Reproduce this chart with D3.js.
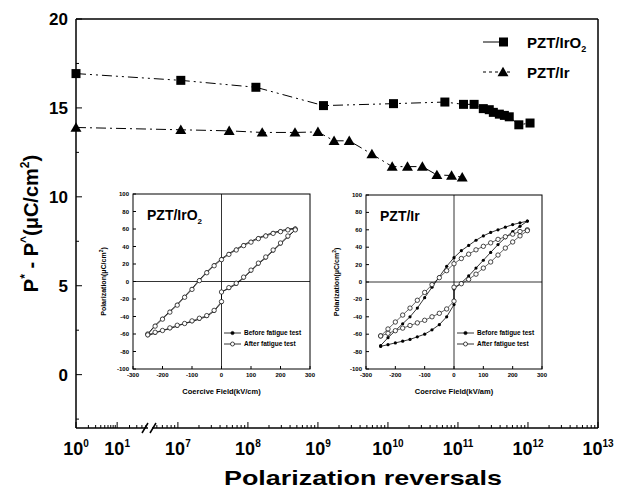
<!DOCTYPE html>
<html>
<head>
<meta charset="utf-8">
<script src="https://cdn.jsdelivr.net/npm/d3@7"></script>
<style>
  body { margin: 0; background: #fff; }
  text { font-family: "Liberation Sans", Arial, sans-serif; font-weight: bold; fill: #000; }
</style>
</head>
<body>
<svg id="chart" width="620" height="488"></svg>
<script>
// ---- main plot data (P* - P^ vs number of switching cycles)
const irO2Cycles = [1, 1.1e7, 1.3e8, 1.2e9, 1.2e10, 6.5e10, 1.2e11, 1.7e11, 2.3e11, 2.8e11, 3.2e11, 3.9e11, 4.6e11, 5.4e11, 7.4e11, 1.07e12];
const irO2Values = [16.93, 16.55, 16.16, 15.13, 15.24, 15.33, 15.2, 15.2, 14.96, 14.9, 14.75, 14.65, 14.58, 14.5, 14.05, 14.15];
const irCycles = [1, 1.1e7, 5.4e7, 1.6e8, 4.7e8, 1e9, 1.7e9, 2.8e9, 5.9e9, 1.15e10, 1.9e10, 3.1e10, 5e10, 8.1e10, 1.15e11];
const irValues = [13.9, 13.77, 13.71, 13.62, 13.62, 13.65, 13.15, 13.15, 12.4, 11.7, 11.7, 11.7, 11.23, 11.2, 11.1];

const yTicks = [0, 5, 10, 15, 20];
const yMinorTicks = [-2.5, 2.5, 7.5, 12.5, 17.5];
const xLowExponents = [0, 1];
const xHighExponents = [7, 8, 9, 10, 11, 12, 13];

// ---- inset data (hysteresis loops, field in kV/cm, polarization in uC/cm2)
const upperField = [250, 225, 200, 175, 150, 125, 100, 75, 50, 25, 0, -25, -50, -75, -100, -125, -150, -175, -200, -225, -250];
const lowerField = [-250, -225, -200, -175, -150, -125, -100, -75, -50, -25, 0, 0, 25, 50, 75, 100, 125, 150, 175, 200, 225, 250];

const irO2BeforeUpper = [61, 60, 58, 56, 53, 50, 46, 42, 37, 32, 26, 19, 11, 2, -8, -17, -26, -34, -42, -50, -60];
const irO2BeforeLower = [-62, -59, -56, -54, -51, -48, -46, -43, -40, -34, -24, -12, -8, -3, 4, 12, 20, 27, 35, 43, 51, 59];
const irO2AfterUpper = [60, 59, 57, 55, 52, 49, 45, 41, 36, 31, 25, 18, 10, 1, -9, -18, -27, -35, -43, -51, -60];
const irO2AfterLower = [-61, -58, -56, -53, -50, -48, -45, -42, -39, -33, -23, -12, -7, -2, 5, 13, 21, 28, 36, 44, 52, 59];

const irBeforeUpper = [70, 68, 66, 63, 60, 57, 53, 48, 42, 36, 28, 18, 6, -6, -18, -30, -40, -48, -56, -64, -73];
const irBeforeLower = [-74, -72, -70, -68, -66, -63, -60, -55, -49, -40, -26, -8, -1, 7, 16, 25, 34, 43, 51, 58, 64, 70];
const irAfterUpper = [60, 58, 55, 52, 49, 45, 41, 37, 32, 27, 21, 13, 5, -3, -12, -21, -30, -38, -46, -54, -62];
const irAfterLower = [-62, -59, -56, -53, -50, -47, -44, -40, -36, -31, -22, -6, -2, 3, 9, 16, 23, 31, 39, 46, 53, 59];

const insetXTicks = [-300, -200, -100, 0, 100, 200, 300];
const insetYTicks = [-100, -80, -60, -40, -20, 0, 20, 40, 60, 80, 100];

const svg = d3.select("#chart");

// ---- scales: broken log axis (two log pieces)
const yMain = d3.scaleLinear().domain([-3, 20]).range([428, 19]);
const xLow = d3.scaleLog().domain([1, Math.pow(10, 1.75)]).range([76, 148]);
const xHigh = d3.scaleLog().domain([Math.pow(10, 6.63), 1e13]).range([152, 598]);
const xMain = v => v < 1e5 ? xLow(v) : xHigh(v);

const pLeft = 76, pRight = 598, pTop = 19, pBottom = 428;

// frame
const frame = svg.append("g").attr("stroke", "#000").attr("stroke-width", 1.5).attr("fill", "none");
frame.append("line").attr("x1", pLeft).attr("x2", pRight).attr("y1", pTop).attr("y2", pTop);
frame.append("line").attr("x1", pLeft).attr("x2", pLeft).attr("y1", pTop).attr("y2", pBottom);
frame.append("line").attr("x1", pRight).attr("x2", pRight).attr("y1", pTop).attr("y2", pBottom);
frame.append("line").attr("x1", pLeft).attr("x2", xLow.range()[1]).attr("y1", pBottom).attr("y2", pBottom);
frame.append("line").attr("x1", xHigh.range()[0]).attr("x2", pRight).attr("y1", pBottom).attr("y2", pBottom);

// break marks
[xLow.range()[1] - 2, xHigh.range()[0] + 2].forEach(bx => {
  frame.append("line").attr("x1", bx - 4).attr("x2", bx + 2).attr("y1", pBottom + 5).attr("y2", pBottom - 5);
});

// bottom ticks (inside)
const ticks = svg.append("g").attr("stroke", "#000").attr("stroke-width", 1);
const lowMinor = [];
for (let m = 2; m <= 9; m++) lowMinor.push(m);
for (let m = 2; m <= 5; m++) lowMinor.push(m * 10);
const highMinor = [];
for (let k = 6; k <= 12; k++) {
  for (let m = 2; m <= 9; m++) {
    const v = m * Math.pow(10, k);
    if (v > xHigh.domain()[0]) highMinor.push(v);
  }
}
lowMinor.forEach(v => ticks.append("line").attr("x1", xLow(v)).attr("x2", xLow(v)).attr("y1", pBottom).attr("y2", pBottom - 3));
highMinor.forEach(v => ticks.append("line").attr("x1", xHigh(v)).attr("x2", xHigh(v)).attr("y1", pBottom).attr("y2", pBottom - 3));
xLowExponents.forEach(e => ticks.append("line").attr("x1", xLow(Math.pow(10, e))).attr("x2", xLow(Math.pow(10, e))).attr("y1", pBottom).attr("y2", pBottom - 6));
xHighExponents.forEach(e => ticks.append("line").attr("x1", xHigh(Math.pow(10, e))).attr("x2", xHigh(Math.pow(10, e))).attr("y1", pBottom).attr("y2", pBottom - 6));

// left ticks (inside)
yTicks.forEach(v => ticks.append("line").attr("x1", pLeft).attr("x2", pLeft + 6).attr("y1", yMain(v)).attr("y2", yMain(v)));
yMinorTicks.forEach(v => ticks.append("line").attr("x1", pLeft).attr("x2", pLeft + 3).attr("y1", yMain(v)).attr("y2", yMain(v)));

// tick labels
const powerLabel = (x, e) => {
  const t = svg.append("text").attr("x", x).attr("y", 455).attr("text-anchor", "middle").attr("font-size", 18);
  t.append("tspan").text("10");
  t.append("tspan").attr("font-size", 10).attr("dy", -8).text(e);
};
xLowExponents.forEach(e => powerLabel(xLow(Math.pow(10, e)), e));
xHighExponents.forEach(e => powerLabel(xHigh(Math.pow(10, e)), e));

yTicks.forEach(v => {
  svg.append("text").attr("x", 68).attr("y", yMain(v) + 6).attr("text-anchor", "end").attr("font-size", 17).text(v);
});

// axis titles
svg.append("text").attr("x", 363).attr("y", 485).attr("text-anchor", "middle").attr("font-size", 21)
  .attr("textLength", 278).attr("lengthAdjust", "spacingAndGlyphs").text("Polarization reversals");

const yTitle = svg.append("text").attr("transform", "translate(38," + (pTop + pBottom) / 2 + ") rotate(-90)")
  .attr("text-anchor", "middle").attr("font-size", 20);
yTitle.append("tspan").text("P");
yTitle.append("tspan").attr("font-size", 12).attr("dy", -9).text("*");
yTitle.append("tspan").attr("dy", 9).text(" - P");
yTitle.append("tspan").attr("font-size", 12).attr("dy", -9).text("^");
yTitle.append("tspan").attr("dy", 9).text("(\u03bcC/cm");
yTitle.append("tspan").attr("font-size", 12).attr("dy", -9).text("2");
yTitle.append("tspan").attr("dy", 9).text(")");

// ---- main series
const irO2 = irO2Cycles.map((c, i) => ({ c: c, v: irO2Values[i] }));
const ir = irCycles.map((c, i) => ({ c: c, v: irValues[i] }));
const mainLine = d3.line().x(d => xMain(d.c)).y(d => yMain(d.v));

svg.append("path").datum(irO2).attr("d", mainLine).attr("fill", "none")
  .attr("stroke", "#000").attr("stroke-width", 1).attr("stroke-dasharray", "10,4,2,4,2,4");
svg.append("path").datum(ir).attr("d", mainLine).attr("fill", "none")
  .attr("stroke", "#000").attr("stroke-width", 1).attr("stroke-dasharray", "10,4,2,4");

const sq = 9;
svg.selectAll(".sq").data(irO2).join("rect")
  .attr("x", d => xMain(d.c) - sq / 2).attr("y", d => yMain(d.v) - sq / 2)
  .attr("width", sq).attr("height", sq).attr("fill", "#000");
const tri = d3.symbol().type(d3.symbolTriangle).size(52);
svg.selectAll(".tri").data(ir).join("path")
  .attr("transform", d => `translate(${xMain(d.c)},${yMain(d.v) + 1})`)
  .attr("d", tri).attr("fill", "#000");

// legend
const lg = svg.append("g");
lg.append("line").attr("x1", 483).attr("x2", 499).attr("y1", 42).attr("y2", 42).attr("stroke", "#000").attr("stroke-width", 1);
lg.append("rect").attr("x", 499).attr("y", 37.5).attr("width", sq).attr("height", sq).attr("fill", "#000");
const lt1 = lg.append("text").attr("x", 527).attr("y", 48).attr("font-size", 15);
lt1.append("tspan").text("PZT/IrO");
lt1.append("tspan").attr("font-size", 9).attr("dy", 4).text("2");
lg.append("line").attr("x1", 483).attr("x2", 510).attr("y1", 72).attr("y2", 72).attr("stroke", "#000").attr("stroke-width", 1).attr("stroke-dasharray", "3,3");
lg.append("path").attr("transform", "translate(503,73)").attr("d", tri).attr("fill", "#000");
lg.append("text").attr("x", 527).attr("y", 78).attr("font-size", 15).text("PZT/Ir");

// ---- insets
function drawInset(cfg) {
  const g = svg.append("g");
  const x = d3.scaleLinear().domain([-300, 300]).range([cfg.x0, cfg.x1]);
  const y = d3.scaleLinear().domain([-100, 100]).range([cfg.y1, cfg.y0]);

  g.append("rect").attr("x", cfg.x0).attr("y", cfg.y0).attr("width", cfg.x1 - cfg.x0).attr("height", cfg.y1 - cfg.y0)
    .attr("fill", "#fff").attr("stroke", "#000").attr("stroke-width", 1);
  g.append("line").attr("x1", cfg.x0).attr("x2", cfg.x1).attr("y1", y(0)).attr("y2", y(0)).attr("stroke", "#000").attr("stroke-width", 0.8);
  g.append("line").attr("x1", x(0)).attr("x2", x(0)).attr("y1", cfg.y0).attr("y2", cfg.y1).attr("stroke", "#000").attr("stroke-width", 0.8);

  insetXTicks.forEach(v => {
    g.append("line").attr("x1", x(v)).attr("x2", x(v)).attr("y1", cfg.y1).attr("y2", cfg.y1 - 3).attr("stroke", "#000");
    g.append("text").attr("x", x(v)).attr("y", cfg.y1 + 8).attr("text-anchor", "middle").attr("font-size", 6).text(v);
  });
  insetYTicks.forEach(v => {
    g.append("line").attr("x1", cfg.x0).attr("x2", cfg.x0 + 3).attr("y1", y(v)).attr("y2", y(v)).attr("stroke", "#000");
    g.append("text").attr("x", cfg.x0 - 4).attr("y", y(v) + 2).attr("text-anchor", "end").attr("font-size", 6).text(v);
  });

  g.append("text").attr("x", (cfg.x0 + cfg.x1) / 2).attr("y", cfg.y1 + 25).attr("text-anchor", "middle").attr("font-size", 7.5)
    .text(cfg.xTitle);
  const yt = g.append("text").attr("transform", `translate(${cfg.x0 - 27},${(cfg.y0 + cfg.y1) / 2}) rotate(-90)`)
    .attr("text-anchor", "middle").attr("font-size", 7);
  yt.append("tspan").text("Polarization(\u03bcC/cm");
  yt.append("tspan").attr("font-size", 5).attr("dy", -3).text("2");
  yt.append("tspan").attr("dy", 3).text(")");

  const name = g.append("text").attr("x", cfg.x0 + 14).attr("y", cfg.y0 + 26).attr("font-size", 14);
  name.append("tspan").text(cfg.name);
  if (cfg.sub) name.append("tspan").attr("font-size", 8).attr("dy", 4).text(cfg.sub);

  const line = d3.line().x(d => x(d[0])).y(d => y(d[1]));
  const branch = (f, p) => f.map((e, i) => [e, p[i]]);

  const before = [branch(upperField, cfg.beforeUpper), branch(lowerField, cfg.beforeLower)];
  const after = [branch(upperField, cfg.afterUpper), branch(lowerField, cfg.afterLower)];

  before.forEach(b => {
    g.append("path").datum(b).attr("d", line).attr("fill", "none").attr("stroke", "#000").attr("stroke-width", 0.8);
    g.selectAll(null).data(b).join("circle").attr("cx", d => x(d[0])).attr("cy", d => y(d[1])).attr("r", 1.6).attr("fill", "#000");
  });
  after.forEach(b => {
    g.append("path").datum(b).attr("d", line).attr("fill", "none").attr("stroke", "#000").attr("stroke-width", 0.6);
    g.selectAll(null).data(b).join("circle").attr("cx", d => x(d[0])).attr("cy", d => y(d[1])).attr("r", 2.2)
      .attr("fill", "#fff").attr("stroke", "#000").attr("stroke-width", 0.7);
  });

  // legend
  const lx = cfg.x0 + 91;
  [["Before fatigue test", 333, true], ["After fatigue test", 344, false]].forEach(r => {
    g.append("line").attr("x1", lx).attr("x2", lx + 17).attr("y1", r[1]).attr("y2", r[1]).attr("stroke", "#000").attr("stroke-width", 0.8);
    g.append("circle").attr("cx", lx + 8.5).attr("cy", r[1]).attr("r", r[2] ? 1.6 : 2)
      .attr("fill", r[2] ? "#000" : "#fff").attr("stroke", "#000").attr("stroke-width", 0.7);
    g.append("text").attr("x", lx + 20).attr("y", r[1] + 2.3).attr("font-size", 6.5).text(r[0]);
  });
}

drawInset({
  x0: 133, x1: 310, y0: 194, y1: 369, name: "PZT/IrO", sub: "2", xTitle: "Coercive Field(kV/cm)",
  beforeUpper: irO2BeforeUpper, beforeLower: irO2BeforeLower, afterUpper: irO2AfterUpper, afterLower: irO2AfterLower
});
drawInset({
  x0: 366, x1: 542, y0: 195, y1: 369, name: "PZT/Ir", sub: null, xTitle: "Coercive Field(kV/am)",
  beforeUpper: irBeforeUpper, beforeLower: irBeforeLower, afterUpper: irAfterUpper, afterLower: irAfterLower
});
</script>
</body>
</html>
